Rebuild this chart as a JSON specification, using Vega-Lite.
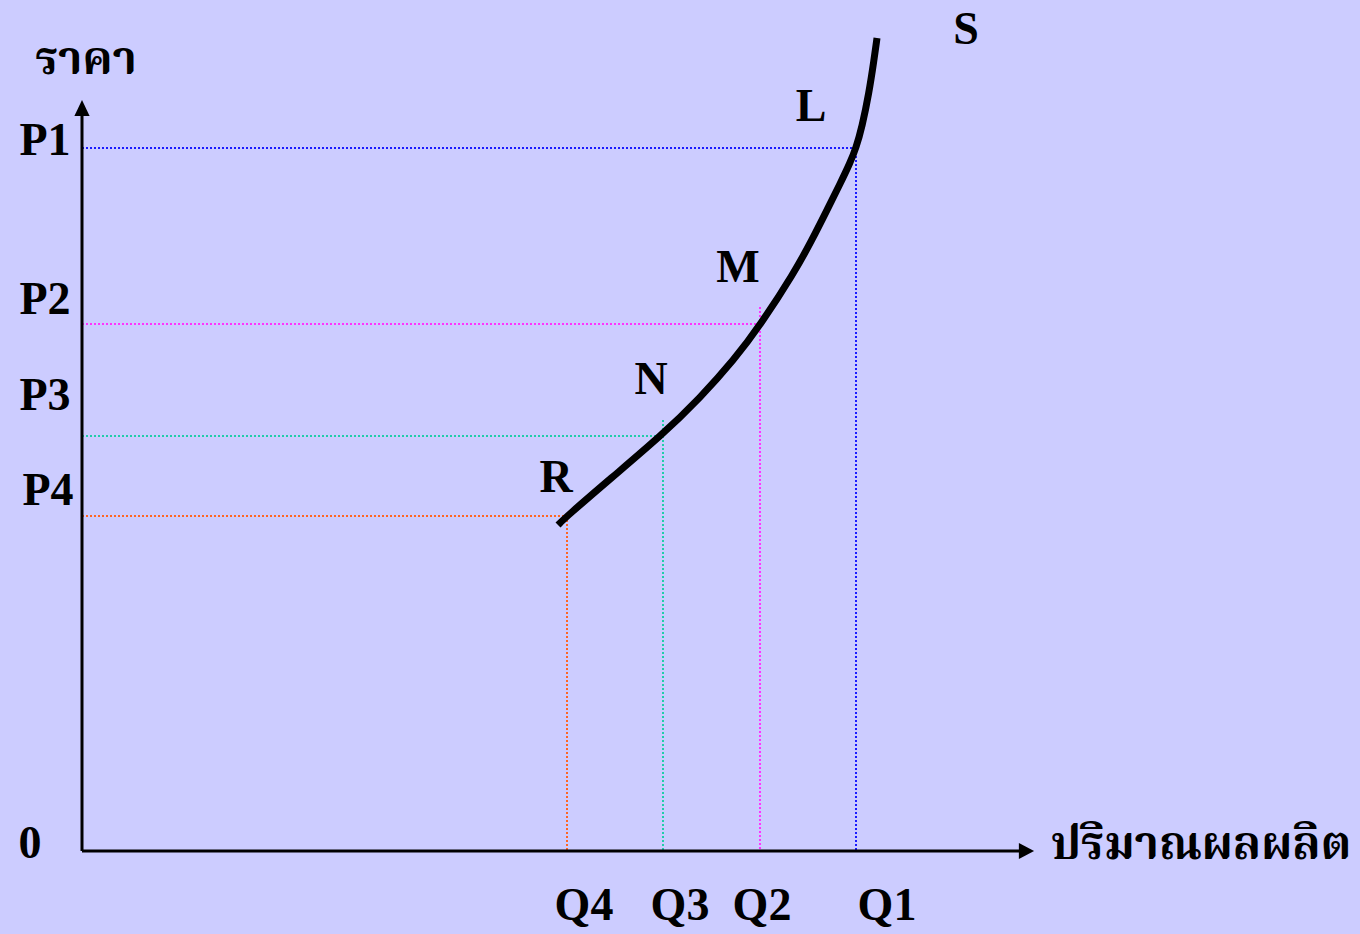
{
  "$schema": "https://vega.github.io/schema/vega-lite/v6.json",
  "width": 1360,
  "height": 934,
  "autosize": {"type": "fit", "contains": "padding"},
  "padding": 0,
  "background": "#CCCCFF",
  "config": {"view": {"stroke": null}},
  "datasets": {
    "axes": [
      {"x": 0, "y": 0, "x2": 0, "y2": 74.3},
      {"x": 0, "y": 0, "x2": 94.0, "y2": 0}
    ],
    "guides": [
      {"price": "P1", "x": 0, "y": 70.3, "x2": 77.4, "y2": 70.3},
      {"price": "P1", "x": 77.4, "y": 69.9, "x2": 77.4, "y2": 0},
      {"price": "P2", "x": 0, "y": 52.7, "x2": 67.8, "y2": 52.7},
      {"price": "P2", "x": 67.8, "y": 54.4, "x2": 67.8, "y2": 0},
      {"price": "P3", "x": 0, "y": 41.5, "x2": 58.1, "y2": 41.5},
      {"price": "P3", "x": 58.1, "y": 43.1, "x2": 58.1, "y2": 0},
      {"price": "P4", "x": 0, "y": 33.5, "x2": 48.5, "y2": 33.5},
      {"price": "P4", "x": 48.5, "y": 33.5, "x2": 48.5, "y2": 0}
    ],
    "supply": [
      {"q": 47.6, "p": 32.6},
      {"q": 48.4, "p": 33.4},
      {"q": 52.8, "p": 37.2},
      {"q": 58.0, "p": 41.6},
      {"q": 61.8, "p": 45.3},
      {"q": 65.2, "p": 49.1},
      {"q": 67.9, "p": 52.7},
      {"q": 71.2, "p": 57.8},
      {"q": 73.0, "p": 61.1},
      {"q": 74.6, "p": 64.3},
      {"q": 75.8, "p": 66.7},
      {"q": 76.8, "p": 68.8},
      {"q": 77.4, "p": 70.3},
      {"q": 78.0, "p": 72.4},
      {"q": 78.7, "p": 75.8},
      {"q": 79.2, "p": 79.1},
      {"q": 79.5, "p": 81.3}
    ],
    "arrows": [
      {"dir": "up", "x": 0, "y": 74.3},
      {"dir": "right", "x": 94.45, "y": 0}
    ],
    "labels": [
      {"label": "ราคา", "x": 0.4, "y": 79.1},
      {"label": "P1", "x": -3.7, "y": 71.0},
      {"label": "P2", "x": -3.7, "y": 55.1},
      {"label": "P3", "x": -3.7, "y": 45.5},
      {"label": "P4", "x": -3.4, "y": 36.0},
      {"label": "0", "x": -5.2, "y": 0.7},
      {"label": "Q4", "x": 50.2, "y": -5.5},
      {"label": "Q3", "x": 59.8, "y": -5.5},
      {"label": "Q2", "x": 68.0, "y": -5.5},
      {"label": "Q1", "x": 80.5, "y": -5.5},
      {"label": "S", "x": 88.4, "y": 82.1},
      {"label": "L", "x": 72.9, "y": 74.4},
      {"label": "M", "x": 65.6, "y": 58.3},
      {"label": "N", "x": 56.9, "y": 47.1},
      {"label": "R", "x": 47.4, "y": 37.3},
      {"label": "ปริมาณผลผลิต", "x": 111.9, "y": 0.6}
    ]
  },
  "layer": [
    {
      "data": {"name": "guides"},
      "mark": {"type": "rule", "strokeWidth": 2, "strokeDash": [2, 2]},
      "encoding": {
        "x": {"field": "x", "type": "quantitative", "scale": {"domain": [-8.2, 127.8], "nice": false, "zero": false}, "axis": null},
        "y": {"field": "y", "type": "quantitative", "scale": {"domain": [-8.3, 85.1], "nice": false, "zero": false}, "axis": null},
        "x2": {"field": "x2"},
        "y2": {"field": "y2"},
        "color": {"field": "price", "type": "nominal", "scale": {"domain": ["P1", "P2", "P3", "P4"], "range": ["#1a1aff", "#ff33ff", "#22ccaa", "#ff6622"]}, "legend": null}
      }
    },
    {
      "data": {"name": "axes"},
      "mark": {"type": "rule", "strokeWidth": 3, "color": "black"},
      "encoding": {
        "x": {"field": "x", "type": "quantitative", "axis": null},
        "y": {"field": "y", "type": "quantitative", "axis": null},
        "x2": {"field": "x2"},
        "y2": {"field": "y2"}
      }
    },
    {
      "data": {"name": "supply"},
      "mark": {"type": "line", "strokeWidth": 7, "color": "black", "interpolate": "basis", "strokeCap": "butt"},
      "encoding": {
        "x": {"field": "q", "type": "quantitative", "axis": null},
        "y": {"field": "p", "type": "quantitative", "axis": null}
      }
    },
    {
      "data": {"name": "arrows"},
      "mark": {"type": "point", "filled": true, "color": "black", "opacity": 1, "size": 256},
      "encoding": {
        "x": {"field": "x", "type": "quantitative", "axis": null},
        "y": {"field": "y", "type": "quantitative", "axis": null},
        "shape": {"field": "dir", "type": "nominal", "scale": {"domain": ["up", "right"], "range": ["M0,-1L-0.95,1L0.95,1Z", "M0.95,0L-0.95,-1L-0.95,1Z"]}, "legend": null}
      }
    },
    {
      "data": {"name": "labels"},
      "mark": {"type": "text", "font": "Liberation Serif, Noto Serif Thai, Norasi, serif", "fontWeight": "bold", "fontSize": 46, "color": "black", "align": "center", "baseline": "middle"},
      "encoding": {
        "x": {"field": "x", "type": "quantitative", "axis": null},
        "y": {"field": "y", "type": "quantitative", "axis": null},
        "text": {"field": "label"}
      }
    }
  ]
}
